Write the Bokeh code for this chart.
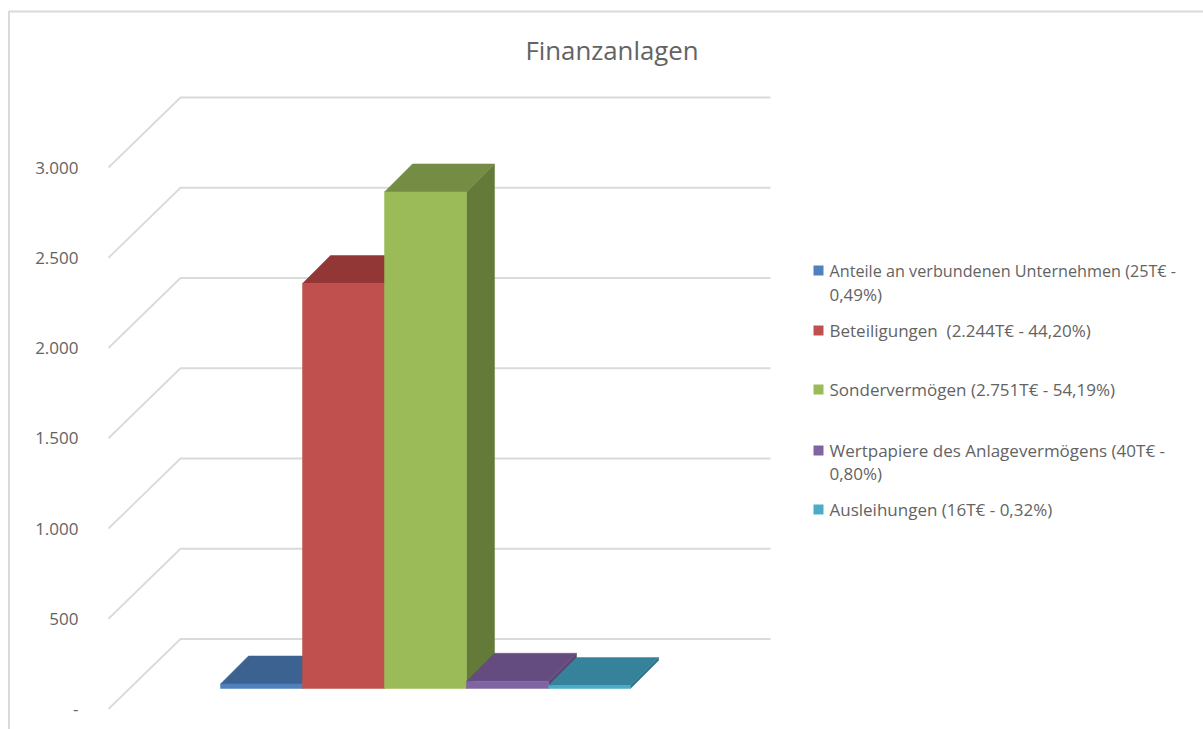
from bokeh.plotting import figure
from bokeh.models import FixedTicker, Range1d
from bokeh.core.properties import value
from bokeh.embed import file_html
from bokeh.resources import INLINE

# ---- data ----
title_text = "Finanzanlagen"
categories = ["Anteile an verbundenen Unternehmen", "Beteiligungen", "Sondervermögen",
              "Wertpapiere des Anlagevermögens", "Ausleihungen"]
values = [25, 2244, 2751, 40, 16]
tick_values = [0, 500, 1000, 1500, 2000, 2500, 3000]
tick_labels = ["-", "500", "1.000", "1.500", "2.000", "2.500", "3.000"]
legend_lines = [
    ["Anteile an verbundenen Unternehmen (25T€ -", "0,49%)"],
    ["Beteiligungen\u00a0 (2.244T€ - 44,20%)"],
    ["Sondervermögen (2.751T€ - 54,19%)"],
    ["Wertpapiere des Anlagevermögens (40T€ -", "0,80%)"],
    ["Ausleihungen (16T€ - 0,32%)"],
]
front_colors = ["#4F81BD", "#C0504D", "#9BBB59", "#8064A2", "#4BACC6"]
top_colors = ["#3C6292", "#923735", "#748C43", "#644C80", "#35829A"]
side_colors = ["#35567F", "#7F2F2D", "#647A38", "#5A4673", "#2F7389"]

# ---- layout (picture pixels) ----
PAGE_W, PAGE_H = 1203, 729
Y0_PX, PX_PER_UNIT = 708.5, 0.1805
X0_PX, PX_PER_CAT = 261, 82.0
GREY, TEXT = "#DADADA", "#636363"


def data_x(px):
    return (px - X0_PX) / PX_PER_CAT


def data_y(px):
    return (Y0_PX - px) / PX_PER_UNIT


p = figure(width=PAGE_W, height=PAGE_H, output_backend="svg", toolbar_location=None,
           x_range=Range1d(data_x(0), data_x(PAGE_W)),
           y_range=Range1d(data_y(PAGE_H), data_y(0)),
           min_border_left=0, min_border_top=0, min_border_right=0, min_border_bottom=0)
p.outline_line_color = None
p.background_fill_color = "white"
p.xaxis.visible = False
p.xgrid.visible = False
p.ygrid.visible = False

ax = p.yaxis[0]
ax.fixed_location = data_x(85)
ax.ticker = FixedTicker(ticks=tick_values)
ax.major_label_overrides = {v: s for v, s in zip(tick_values, tick_labels)}
ax.axis_line_color = None
ax.major_tick_line_color = None
ax.minor_tick_line_color = None
ax.major_tick_out = 0
ax.major_tick_in = 0
ax.major_label_standoff = 7
ax.major_label_text_font = "Open Sans"
ax.major_label_text_font_size = "17px"
ax.major_label_text_color = TEXT

# chart frame
p.line([data_x(8.5), data_x(8.5), data_x(PAGE_W)], [data_y(PAGE_H), data_y(11), data_y(11)],
       line_color=GREY, line_width=2)

# title
p.text([data_x(611.5)], [data_y(49)], text=[title_text], text_font=value("Open Sans"),
       text_font_size="25.8px", text_color=TEXT, text_align="center", text_baseline="middle")

# 3D wall: gridlines from the front edge to the back wall, then across
WALL_LIFT = 70 / PX_PER_UNIT
x_front, x_wall, x_right = data_x(108), data_x(180), data_x(770)
for t in tick_values:
    p.line([x_front, x_wall, x_right], [t, t + WALL_LIFT, t + WALL_LIFT],
           line_color=GREY, line_width=1.8)

# 3D bars
BASE_LIFT = 20.5 / PX_PER_UNIT
DEPTH_X = 28 / PX_PER_CAT
DEPTH_Y = 28 / PX_PER_UNIT
for i, v in enumerate(values):
    l, r = i - 0.5, i + 0.5
    b, t = BASE_LIFT, BASE_LIFT + v
    p.patch([r, r + DEPTH_X, r + DEPTH_X, r], [b, b + DEPTH_Y, t + DEPTH_Y, t],
            fill_color=side_colors[i], line_color=side_colors[i], line_width=0.5)
    p.patch([l, l + DEPTH_X, r + DEPTH_X, r], [t, t + DEPTH_Y, t + DEPTH_Y, t],
            fill_color=top_colors[i], line_color=top_colors[i], line_width=0.5)
    p.patch([l, r, r, l], [b, b, t, t],
            fill_color=front_colors[i], line_color=front_colors[i], line_width=0.5)

# legend
legend_y_px = [[270, 293.5], [330], [389], [450, 473], [509]]
legend_sizes = [["16.2px", "17px"], ["17px"], ["17px"], ["17px", "17px"], ["17px"]]
x_sq, x_txt = data_x(818), data_x(829)
for i, (lines, ys, sizes) in enumerate(zip(legend_lines, legend_y_px, legend_sizes)):
    p.scatter([x_sq], [data_y(ys[0])], marker="square", size=10,
              fill_color=front_colors[i], line_color=None)
    for line, y, size in zip(lines, ys, sizes):
        p.text([x_txt], [data_y(y)], text=[line],
               text_font=value("Open Sans"), text_font_size=size, text_color=TEXT,
               text_baseline="middle", text_align="left")

open("out.html", "w").write(file_html(p, INLINE))
